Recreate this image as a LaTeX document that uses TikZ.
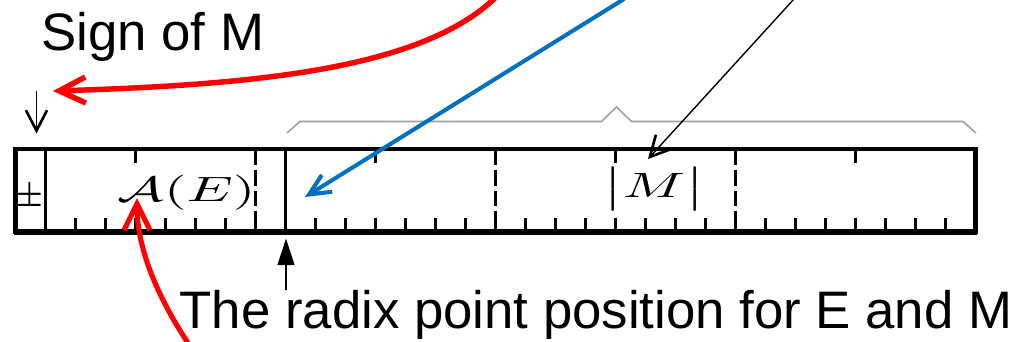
\documentclass[tikz,border=0pt]{standalone}
\usepackage{amsmath}
\usepackage{fontspec}
\newfontfamily\labelfont{Liberation Sans}
\usepackage{xcolor}
\definecolor{fpred}{RGB}{255,0,0}
\definecolor{fpblue}{RGB}{0,112,192}
\definecolor{fpgray}{RGB}{160,160,160}
\usepackage{tikz}
\usetikzlibrary{arrows.meta}

\tikzset{
  bitframe/.style={line width=1.3pt},
  bittick/.style={line width=0.6pt},
  bytesep/.style={line width=0.65pt, dash pattern=on 4.5pt off 1.4pt},
  anno/.style={font=\labelfont\fontsize{15}{18}\selectfont, inner sep=0pt, anchor=base west},
  field/.style={font=\fontsize{10}{12}\selectfont, inner sep=0pt, xscale=1.65},
  redarr/.style={-{Straight Barb[length=7.5pt,width=7.4pt]}, fpred, line width=1.55pt},
  bluearr/.style={-{Straight Barb[length=6pt,width=5.6pt]}, fpblue, line width=1.15pt},
  thinarr/.style={-{Straight Barb[length=5.8pt,width=6pt,line width=0.75pt]}, line width=0.4pt},
}

\begin{document}
\begin{tikzpicture}[x=0.01cm, y=-0.01cm]
\useasboundingbox (0,0) rectangle (1021,341);

% --- The 32-bit register ---
\draw[bitframe] (15.5,149) rectangle (975.5,232);
\draw[line width=1.7pt] (14,232) -- (977,232);
\draw[bittick] (45.5,149) -- (45.5,232);
\draw[bittick] (285.5,149) -- (285.5,232);
\foreach \k in {2,...,31}
  \draw[bittick] ({15.5+30*\k},218) -- ({15.5+30*\k},232);
\foreach \k in {4,12,20,28}
  \draw[bittick] ({15.5+30*\k},149) -- ({15.5+30*\k},163);
\foreach \k in {8,16,24}
  \draw[bytesep] ({15.5+30*\k},149) -- ({15.5+30*\k},232);

% Field contents
\node[font=\fontsize{10}{12}\selectfont\bfseries, inner sep=0pt, xscale=0.85] (signbit) at (29.5,194) {±};
\node[field] (expval) at (186.5,193) {$\mathcal{A}(E)$};
\node[field] (mantval) at (654,189) {$\big|M\big|$};

% Brace over the mantissa
\draw[fpgray, line width=0.45pt] (287,133) -- (300,121.5) -- (601.5,121.5) -- (616.5,107)
  -- (631.5,121.5) -- (963,121.5) -- (976,133);

% --- Annotations ---
\node[anno] (signlbl) at (40.5,50) {Sign of M};
\node[anno] (radixlbl) at (179,328) {The radix point position for E and M};

\coordinate (signsrc) at (495,-2);
\coordinate (signtip) at (53,91);
\draw[redarr] (signsrc) .. controls (420,70) and (250,85) .. (signtip);

\coordinate (signtop) at (36.5,91);
\coordinate (signbot) at (36.5,133.5);
\draw[thinarr] (signtop) -- (signbot);

\coordinate (expsrc) at (624,-1);
\coordinate (radixin) at (305,197);
\draw[bluearr] (expsrc) -- (radixin);

\coordinate (mantsrc) at (794,-1);
\coordinate (manttip) at (648,159);
\draw[thinarr] (mantsrc) -- (manttip);

\coordinate (expfoot) at (188,343);
\coordinate (exptip) at (137,198);
\draw[redarr, line width=1.45pt] (expfoot) .. controls (150,285) and (137,240) .. (exptip);

\coordinate (radixfoot) at (286,289.5);
\coordinate (radixbot) at (286,238.5);
\draw[-{Triangle[length=7.6pt,width=4.8pt]}, line width=0.6pt] (radixfoot) -- (radixbot);

\end{tikzpicture}
\end{document}
